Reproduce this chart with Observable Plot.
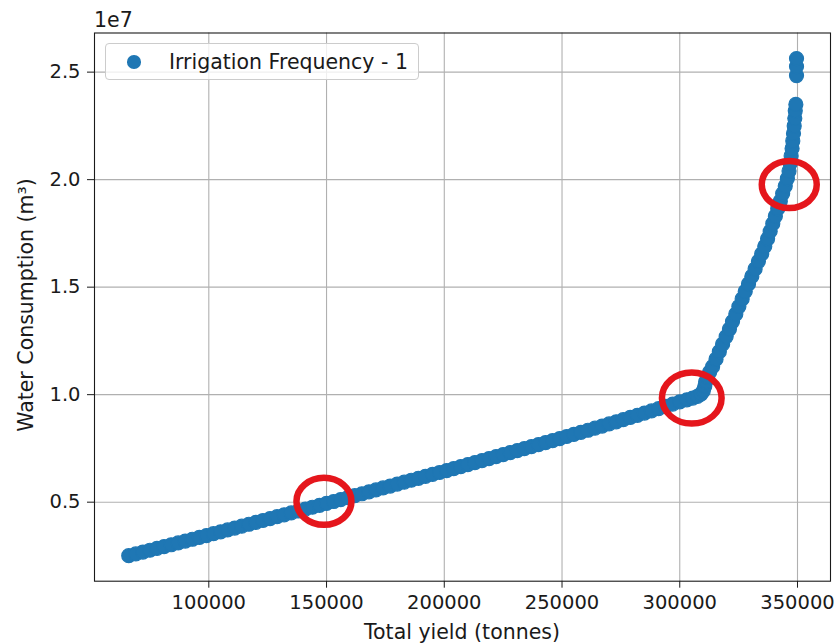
<!DOCTYPE html>
<html><head><meta charset="utf-8">
<script src="https://cdn.jsdelivr.net/npm/d3@7"></script>
<script src="https://cdn.jsdelivr.net/npm/@observablehq/plot@0.6"></script>
<style>
body{margin:0;background:#fff;}
#wrap{position:relative;width:838px;height:644px;font-family:"DejaVu Sans",sans-serif;color:#1a1a1a;}
.lbl{position:absolute;font-size:20.5px;line-height:1;white-space:nowrap;font-family:"DejaVu Sans",sans-serif;color:#1a1a1a;}
#legend{position:absolute;left:104.5px;top:43px;width:314px;height:37px;border:1px solid #cccccc;border-radius:4px;background:rgba(255,255,255,0.8);box-sizing:border-box;}
#legmark{position:absolute;left:127.3px;top:55px;width:13.6px;height:13.6px;border-radius:50%;background:#1f77b4;}
</style></head><body><div id="wrap"></div><script>
// Total yield (tonnes), read along the band
const yieldTonnes = [
 66000,69000,72000,75000,78000,81000,84000,87000,90000,93000,96000,99000,
 102000,105000,108000,111000,114000,117000,120000,123000,126000,129000,132000,135000,138000,141000,144000,147000,150000,
 153000,156000,159000,162000,165000,168000,171000,174000,177000,180000,183000,186000,189000,192000,195000,198000,
 201000,204000,207000,210000,213000,216000,219000,222000,225000,228000,231000,234000,237000,240000,243000,246000,249000,
 252000,255000,258000,261000,264000,267000,270000,273000,276000,279000,282000,285000,288000,291000,294000,297000,300000,
 303000,305500,307500,309000,310000,310600,311000,311700,312700,
 313950,315400,316800,318200,319700,321100,322400,323800,325100,326500,327800,329200,330600,332000,333400,334800,336100,
 337300,338400,339500,340600,341600,342700,343700,344800,345700,346400,346900,347300,347700,348000,348300,348600,348850,349050,349300,
 349580,349580,349580
];
// Water consumption (m³)
const waterM3 = [
 2.510e6,2.595e6,2.680e6,2.765e6,2.850e6,2.935e6,3.020e6,3.105e6,3.190e6,3.275e6,3.360e6,3.445e6,
 3.533e6,3.621e6,3.709e6,3.797e6,3.885e6,3.973e6,4.061e6,4.149e6,4.237e6,4.325e6,4.413e6,4.501e6,4.589e6,4.677e6,4.765e6,4.853e6,4.941e6,
 5.031e6,5.121e6,5.211e6,5.301e6,5.391e6,5.481e6,5.571e6,5.661e6,5.751e6,5.841e6,5.931e6,6.021e6,6.111e6,6.201e6,6.291e6,6.381e6,
 6.472e6,6.565e6,6.658e6,6.751e6,6.844e6,6.937e6,7.030e6,7.123e6,7.216e6,7.309e6,7.402e6,7.495e6,7.588e6,7.681e6,7.774e6,7.867e6,7.960e6,
 8.055e6,8.151e6,8.248e6,8.345e6,8.443e6,8.541e6,8.640e6,8.739e6,8.839e6,8.940e6,9.041e6,9.143e6,9.246e6,9.350e6,9.455e6,9.561e6,9.668e6,
 9.760e6,9.840e6,9.920e6,10.02e6,10.18e6,10.38e6,10.60e6,10.82e6,11.05e6,
 11.30e6,11.65e6,12.00e6,12.35e6,12.70e6,13.05e6,13.40e6,13.75e6,14.10e6,14.45e6,14.80e6,15.15e6,15.50e6,15.85e6,16.20e6,16.55e6,16.90e6,
 17.25e6,17.60e6,17.95e6,18.30e6,18.65e6,19.00e6,19.35e6,19.70e6,20.05e6,20.40e6,20.75e6,21.10e6,21.45e6,21.80e6,22.15e6,22.50e6,22.85e6,23.20e6,23.50e6,
 24.84e6,25.26e6,25.63e6
];
const xTicks = [100000,150000,200000,250000,300000,350000];
const yTicks = [5e6,1e7,1.5e7,2e7,2.5e7];
// red highlight rings (hand-drawn annotations)
const ringX = [148900, 305100, 346500];
const ringY = [5.04e6, 9.84e6, 19.77e6];
const ringR = [23.5, 25.5, 23.5];

const points = yieldTonnes.map((x,i)=>({x, y: waterM3[i]}));
const rings = ringX.map((x,i)=>({x, y: ringY[i], r: ringR[i]}));

const ellipse = {
  draw(ctx, size){
    const r = Math.sqrt(size/Math.PI), rx = r*1.17, ry = r, k = 0.5523;
    ctx.moveTo(rx,0);
    ctx.bezierCurveTo(rx, ry*k, rx*k, ry, 0, ry);
    ctx.bezierCurveTo(-rx*k, ry, -rx, ry*k, -rx, 0);
    ctx.bezierCurveTo(-rx, -ry*k, -rx*k, -ry, 0, -ry);
    ctx.bezierCurveTo(rx*k, -ry, rx, -ry*k, rx, 0);
    ctx.closePath();
  }
};

const chart = Plot.plot({
  width:838, height:644, marginTop:32.5, marginRight:8, marginBottom:63.3, marginLeft:94,
  style:{fontFamily:"DejaVu Sans", fontSize:"19.5px", color:"#1a1a1a", background:"transparent", overflow:"visible"},
  x:{domain:[51460,364014], ticks:xTicks, tickFormat:d=>d3.format("d")(d), tickSize:7, tickPadding:7, label:null},
  y:{domain:[1.325e6,2.682e7], ticks:yTicks, tickFormat:d=>(d/1e7).toFixed(1), tickSize:7, tickPadding:7, label:null},
  r:{type:"identity"},
  marks:[
    Plot.ruleX(xTicks,{stroke:"#b0b0b0", strokeWidth:1.1}),
    Plot.ruleY(yTicks,{stroke:"#b0b0b0", strokeWidth:1.1}),
    Plot.dot(points,{x:"x", y:"y", r:7, fill:"#1f77b4", stroke:"#1f77b4", strokeWidth:1.2}),
    Plot.dot(rings,{x:"x", y:"y", r:"r", symbol:ellipse, stroke:"#e5161c", strokeWidth:6.5, fill:"none"}),
    Plot.frame({stroke:"#1a1a1a", strokeWidth:1.1})
  ]
});
const wrap = document.getElementById("wrap");
wrap.appendChild(chart);
chart.style.position="absolute"; chart.style.left="0"; chart.style.top="0";

function addLabel(text, css){
  const d = document.createElement("div");
  d.className="lbl"; d.textContent=text;
  Object.assign(d.style, css);
  wrap.appendChild(d);
  return d;
}
addLabel("1e7",{left:"94px", top:"9.5px"});
addLabel("Total yield (tonnes)",{left:"462px", top:"621.5px", transform:"translateX(-50%)"});
addLabel("Water Consumption (m³)",{left:"25.5px", top:"305px", transform:"translate(-50%,-50%) rotate(-90deg)"});
const leg = document.createElement("div"); leg.id="legend"; wrap.appendChild(leg);
const lm = document.createElement("div"); lm.id="legmark"; wrap.appendChild(lm);
addLabel("Irrigation Frequency - 1",{left:"169px", top:"51.5px"});
</script></body></html>
